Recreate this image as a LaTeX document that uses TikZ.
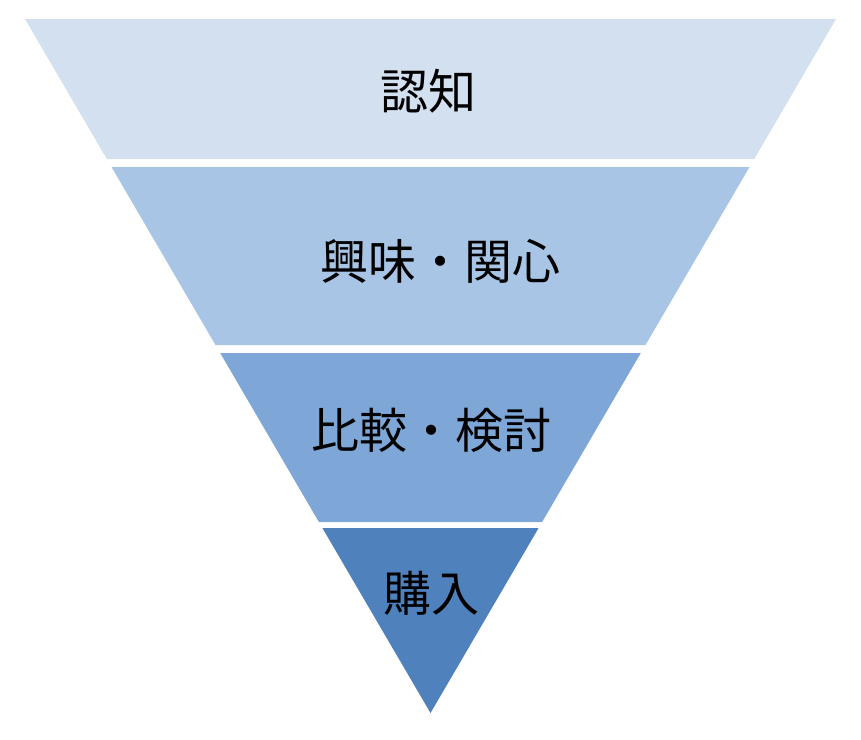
\documentclass[tikz,border=0pt]{standalone}
\usepackage{fontspec}
\newfontfamily\jpfont{Noto Sans CJK JP}
\definecolor{bandA}{HTML}{D3E0F0}
\definecolor{bandB}{HTML}{A9C5E5}
\definecolor{bandC}{HTML}{7EA7D8}
\definecolor{bandD}{HTML}{4F81BD}
\begin{document}
\begin{tikzpicture}[x=1pt,y=-1pt,
  lbl/.style={font=\jpfont\fontsize{48}{52}\selectfont, text=black, inner sep=0pt, anchor=center}]
\useasboundingbox (0,0) rectangle (861,739);
\fill[white] (0,0) rectangle (861,739);
% band 1
\fill[bandA] (25,19) -- (836,19) -- (754.2,159) -- (106.8,159) -- cycle;
% band 2
\fill[bandB] (111.5,167) -- (749.5,167) -- (645.5,345) -- (215.5,345) -- cycle;
% band 3
\fill[bandC] (220.2,353) -- (640.8,353) -- (542.1,522) -- (318.9,522) -- cycle;
% band 4
\fill[bandD] (322.4,528) -- (538.6,528) -- (430.5,713) -- cycle;
\node[lbl] (t1) at (428,91) {認知};
\node[lbl] (t2) at (440,261) {興味・関心};
\node[lbl] (t3) at (431,430) {比較・検討};
\node[lbl] (t4) at (431.5,593) {購入};
\end{tikzpicture}
\end{document}
